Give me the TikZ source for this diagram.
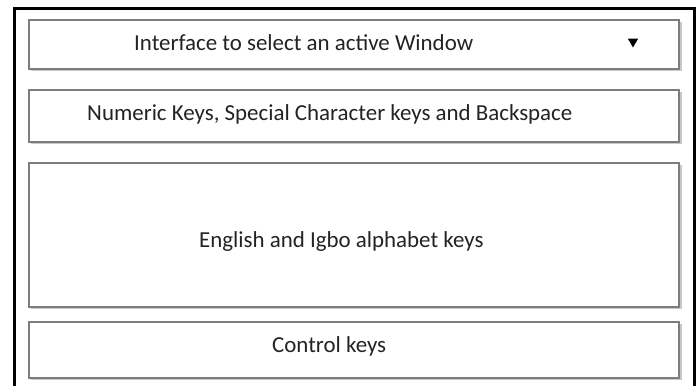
\documentclass[tikz,border=0pt]{standalone}
\usepackage{fontspec}
\setmainfont{Carlito}
\usetikzlibrary{shapes.geometric}
\definecolor{boxline}{RGB}{125,125,125}
\definecolor{boxshade}{RGB}{200,200,200}
\definecolor{labeltext}{RGB}{35,35,35}
\tikzset{
  panel/.style={draw=boxline, line width=1.6bp, fill=white},
  panelshade/.style={draw=boxshade, line width=1.2bp},
  caption/.style={font=\fontsize{23}{26}\selectfont, text=labeltext, inner sep=0pt, anchor=base west},
  frame/.style={draw=black, line width=3bp}
}
\begin{document}
\begin{tikzpicture}[x=1bp, y=-1bp]
  \useasboundingbox (0,0) rectangle (699,385);
  \fill[white] (0,0) rectangle (699,385);
  % outer window frame, open at the bottom edge
  \draw[frame] (14,392) -- (14,8) -- (694,8) -- (694,392);

  % the four stacked panels
  \foreach \t/\b [count=\i] in {20/69, 90/142, 163/307, 322/378} {
    \draw[panelshade] (31,\b+1.6) -- (681,\b+1.6) -- (681,\t+1.6);
    \draw[panel] (29,\t) rectangle (679,\b);
  }
  \node[rectangle, minimum width=650bp, minimum height=49bp, inner sep=0pt] (win) at (354,44.5) {};
  \node[rectangle, minimum width=650bp, minimum height=52bp, inner sep=0pt] (num) at (354,116) {};
  \node[rectangle, minimum width=650bp, minimum height=144bp, inner sep=0pt] (alpha) at (354,235) {};
  \node[rectangle, minimum width=650bp, minimum height=56bp, inner sep=0pt] (ctrl) at (354,350) {};

  % labels
  \node[caption] (wintext) at (134,50) {Interface to select an active Window};
  \node[fill=black, isosceles triangle, isosceles triangle apex angle=60, shape border rotate=-90,
        inner sep=0pt, minimum height=9bp, minimum width=10bp] (drop) at (633,41.5) {};
  \node[caption] (numtext) at (87,120) {Numeric Keys, Special Character keys and Backspace};
  \node[caption] (alphatext) at (199,247) {English and Igbo alphabet keys};
  \node[caption] (ctrltext) at (272,352) {Control keys};
\end{tikzpicture}
\end{document}
